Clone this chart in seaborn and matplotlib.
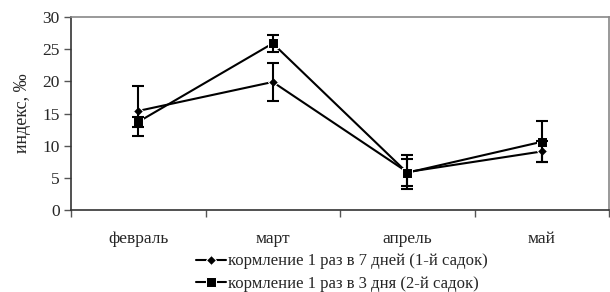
import matplotlib
matplotlib.use("Agg")
import matplotlib.pyplot as plt
import seaborn as sns
import pandas as pd
import numpy as np
from matplotlib.ticker import FixedLocator, NullFormatter, FixedFormatter

months = ["февраль", "март", "апрель", "май"]
s1_name = "кормление 1 раз в 7 дней (1-й садок)"
s2_name = "кормление 1 раз в 3 дня (2-й садок)"
s1_vals = [15.4, 19.9, 5.9, 9.1]
s1_err = [3.9, 3.0, 2.6, 1.7]
s2_vals = [13.7, 25.9, 5.8, 10.6]
s2_err = [0.8, 1.3, 2.1, 3.2]

sns.set_style("white")
plt.rcParams['font.family'] = ['Liberation Serif', 'DejaVu Serif']

pos = [i + 0.5 for i in range(len(months))]
df = pd.DataFrame({
    "x": pos * 2,
    "y": s1_vals + s2_vals,
    "series": [s1_name] * 4 + [s2_name] * 4,
})

fig = plt.figure(figsize=(6.10, 2.92), dpi=100)
ax = fig.add_axes([71/610, 1 - 210/292, (609-71)/610, (210-17)/292])

sns.lineplot(data=df, x="x", y="y", hue="series", style="series",
             markers={s1_name: "D", s2_name: "s"}, dashes=False,
             palette={s1_name: "black", s2_name: "black"},
             markersize=5.5, linewidth=1.5, ax=ax, legend=True)
for ln in ax.lines:
    if ln.get_marker() == "D":
        ln.set_markersize(5.5)
    elif ln.get_marker() == "s":
        ln.set_markersize(7)

ax.errorbar(pos, s1_vals, yerr=s1_err, fmt="none", ecolor="black",
            elinewidth=1.5, capsize=4.5, capthick=1.5)
ax.errorbar(pos, s2_vals, yerr=s2_err, fmt="none", ecolor="black",
            elinewidth=1.5, capsize=4.5, capthick=1.5)

ax.set_xlim(0, 4)
ax.set_ylim(0, 30)
ax.set_yticks([0, 5, 10, 15, 20, 25, 30])
ax.xaxis.set_major_locator(FixedLocator([0, 1, 2, 3, 4]))
ax.xaxis.set_major_formatter(NullFormatter())
ax.xaxis.set_minor_locator(FixedLocator(pos))
ax.xaxis.set_minor_formatter(FixedFormatter(months))
ax.tick_params(axis="x", which="major", direction="out", length=5, width=1, color="#555555", bottom=True)
ax.tick_params(axis="x", which="minor", length=0, labelsize=12.5, pad=15, bottom=True)
ax.tick_params(axis="y", direction="out", length=5, width=1, color="#555555", labelsize=12.5, pad=3, left=True)
ax.set_xlabel("")
ax.set_ylabel("индекс, ‰", fontsize=13, labelpad=8)

for side in ["left", "bottom"]:
    ax.spines[side].set_color("#333333")
    ax.spines[side].set_linewidth(1.2)
for side in ["top", "right"]:
    ax.spines[side].set_color("#888888")
    ax.spines[side].set_linewidth(1.2)

handles, labels = ax.get_legend_handles_labels()
ax.get_legend().remove()
fig.legend(handles, labels, loc="upper center", bbox_to_anchor=(342/610, 1 - 245/292),
           frameon=False, fontsize=12, handlelength=1.8, handletextpad=0.15,
           labelspacing=0.38, borderpad=0)

fig.savefig("out.png", dpi=100)
